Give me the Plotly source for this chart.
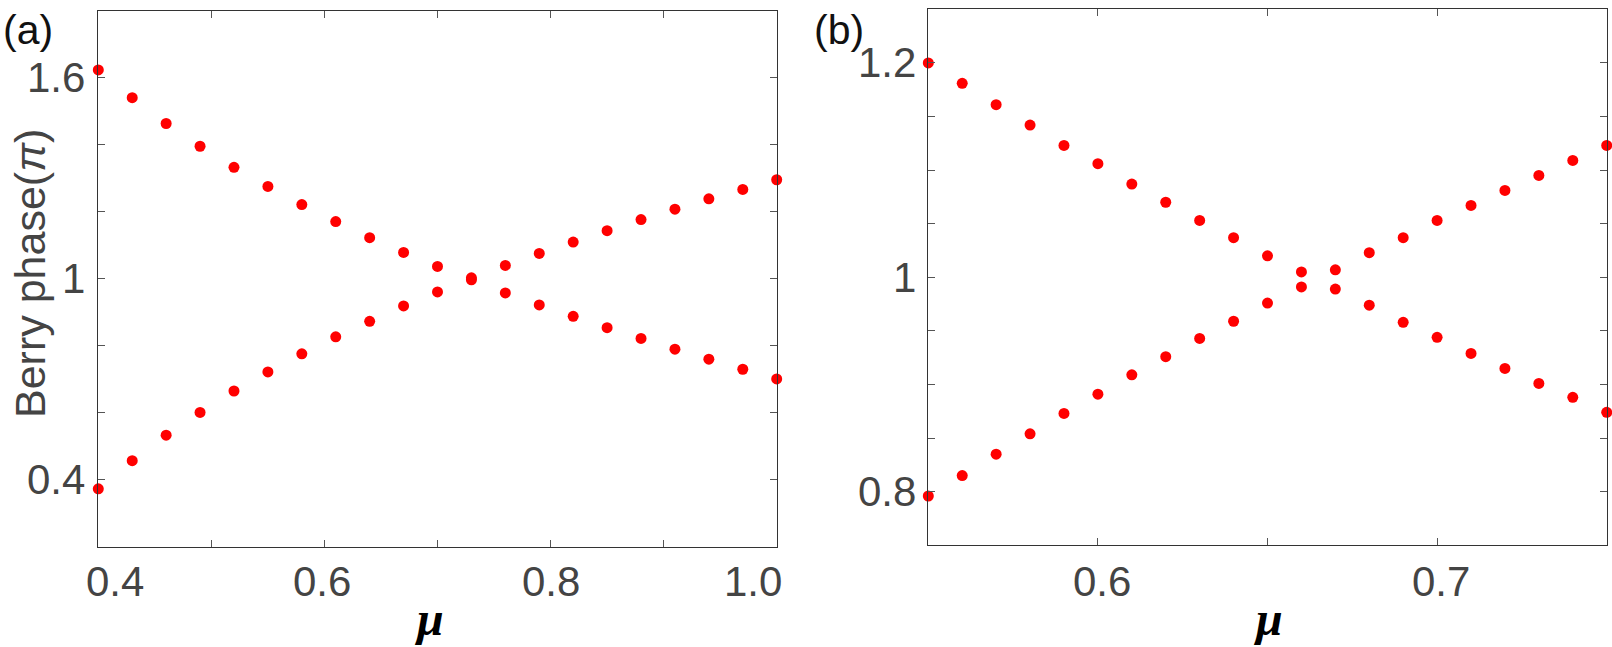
import plotly.graph_objects as go

# ---------------- data ----------------
mu_a = [0.40, 0.43, 0.46, 0.49, 0.52, 0.55, 0.58, 0.61, 0.64, 0.67, 0.70,
        0.73, 0.76, 0.79, 0.82, 0.85, 0.88, 0.91, 0.94, 0.97, 1.00]
upper_a = [1.624, 1.541, 1.464, 1.396, 1.333, 1.276, 1.222, 1.171, 1.123, 1.079, 1.037,
           1.003, 1.040, 1.076, 1.110, 1.144, 1.177, 1.208, 1.239, 1.267, 1.296]
lower_a = [0.373, 0.457, 0.533, 0.601, 0.665, 0.722, 0.776, 0.827, 0.873, 0.919, 0.961,
           0.997, 0.958, 0.922, 0.888, 0.854, 0.822, 0.790, 0.760, 0.730, 0.701]

mu_b = [0.55, 0.56, 0.57, 0.58, 0.59, 0.60, 0.61, 0.62, 0.63, 0.64, 0.65,
        0.66, 0.67, 0.68, 0.69, 0.70, 0.71, 0.72, 0.73, 0.74, 0.75]
upper_b = [1.200, 1.181, 1.161, 1.142, 1.123, 1.106, 1.087, 1.070, 1.053, 1.037, 1.020,
           1.005, 1.007, 1.023, 1.037, 1.053, 1.067, 1.081, 1.095, 1.109, 1.123]
lower_b = [0.796, 0.815, 0.835, 0.854, 0.873, 0.891, 0.909, 0.926, 0.943, 0.959, 0.976,
           0.991, 0.989, 0.974, 0.958, 0.944, 0.929, 0.915, 0.901, 0.888, 0.874]

xticks_a = [0.4, 0.5, 0.6, 0.7, 0.8, 0.9, 1.0]
xlabels_a = [0.4, 0.6, 0.8, 1.0]
xlabel_text_a = ["0.4", "0.6", "0.8", "1.0"]
yticks_a = [0.2, 0.4, 0.6, 0.8, 1.0, 1.2, 1.4, 1.6, 1.8]
ylabels_a = [0.4, 1.0, 1.6]
ylabel_text_a = ["0.4", "1", "1.6"]

xticks_b = [0.55, 0.60, 0.65, 0.70, 0.75]
xlabels_b = [0.6, 0.7]
xlabel_text_b = ["0.6", "0.7"]
yticks_b = [0.75, 0.80, 0.85, 0.90, 0.95, 1.00, 1.05, 1.10, 1.15, 1.20, 1.25]
ylabels_b = [0.8, 1.0, 1.2]
ylabel_text_b = ["0.8", "1", "1.2"]

# ---------------- figure ----------------
W, H = 1612, 647
RED = "#ff0000"
GRAY = "#444444"
FONT = "Liberation Sans, Arial, sans-serif"

fig = go.Figure()
marker = dict(color=RED, size=11, line=dict(width=0))
for xs, ys in ((mu_a, upper_a), (mu_a, lower_a)):
    fig.add_trace(go.Scatter(x=xs, y=ys, mode="markers", marker=marker,
                             xaxis="x", yaxis="y", cliponaxis=False, showlegend=False))
for xs, ys in ((mu_b, upper_b), (mu_b, lower_b)):
    fig.add_trace(go.Scatter(x=xs, y=ys, mode="markers", marker=marker,
                             xaxis="x2", yaxis="y2", cliponaxis=False, showlegend=False))

axis_common = dict(showline=True, linecolor="#333333", linewidth=1, mirror="ticks",
                   ticks="inside", ticklen=7, tickwidth=1, tickcolor="#555555",
                   showgrid=False, zeroline=False, showticklabels=False, fixedrange=True)

fig.update_layout(
    width=W, height=H,
    margin=dict(l=0, r=0, t=0, b=0),
    paper_bgcolor="white", plot_bgcolor="white",
    font=dict(family=FONT, color=GRAY),
    xaxis=dict(domain=[98.3 / W, 776.7 / W], range=[0.4, 1.0],
               tickvals=xticks_a, anchor="y", **axis_common),
    yaxis=dict(domain=[1 - 546.7 / H, 1 - 11 / H], range=[0.2, 1.8],
               tickvals=yticks_a, anchor="x", **axis_common),
    xaxis2=dict(domain=[928.3 / W, 1606.7 / W], range=[0.55, 0.75],
                tickvals=xticks_b, anchor="y2", **axis_common),
    yaxis2=dict(domain=[1 - 545.3 / H, 1 - 9.3 / H], range=[0.75, 1.25],
                tickvals=yticks_b, anchor="x2", **axis_common),
)

ann = []
TICKSIZE = 42
xlab_y = 1 - 581 / H
# panel (a) x tick labels (edge labels pushed inward)
shifts_a = [17, -2, 0, -24]
for v, t, s in zip(xlabels_a, xlabel_text_a, shifts_a):
    ann.append(dict(x=v, y=xlab_y, xref="x", yref="paper", text=t, showarrow=False,
                    xanchor="center", yanchor="middle", xshift=s,
                    font=dict(size=TICKSIZE, color=GRAY, family=FONT)))
shifts_b = [4, 4]
for v, t, s in zip(xlabels_b, xlabel_text_b, shifts_b):
    ann.append(dict(x=v, y=xlab_y, xref="x2", yref="paper", text=t, showarrow=False,
                    xanchor="center", yanchor="middle", xshift=s,
                    font=dict(size=TICKSIZE, color=GRAY, family=FONT)))
# y tick labels
for v, t in zip(ylabels_a, ylabel_text_a):
    ann.append(dict(x=87 / W, y=v, xref="paper", yref="y", text=t, showarrow=False,
                    xanchor="right", yanchor="middle",
                    font=dict(size=TICKSIZE, color=GRAY, family=FONT)))
for v, t in zip(ylabels_b, ylabel_text_b):
    ann.append(dict(x=918 / W, y=v, xref="paper", yref="y2", text=t, showarrow=False,
                    xanchor="right", yanchor="middle",
                    font=dict(size=TICKSIZE, color=GRAY, family=FONT)))

# axis titles
ann.append(dict(x=30 / W, y=1 - 274 / H, xref="paper", yref="paper",
                text="Berry phase(<i>π</i>)", textangle=-90, showarrow=False,
                xanchor="center", yanchor="middle",
                font=dict(size=43, color=GRAY, family=FONT)))
for cx in (429, 1268):
    ann.append(dict(x=cx / W, y=0, xref="paper", yref="paper",
                    text="<b><i>μ</i></b>", showarrow=False,
                    xanchor="center", yanchor="bottom", yshift=0,
                    font=dict(size=48, color="black", family="Liberation Serif, Times New Roman, serif")))

# panel labels
for cx, t in ((27.5, "(a)"), (839, "(b)")):
    ann.append(dict(x=cx / W, y=1 - 30 / H, xref="paper", yref="paper", text=t,
                    showarrow=False, xanchor="center", yanchor="middle",
                    font=dict(size=41, color="#111111", family=FONT)))

fig.update_layout(annotations=ann)
fig.write_html("out.html")
